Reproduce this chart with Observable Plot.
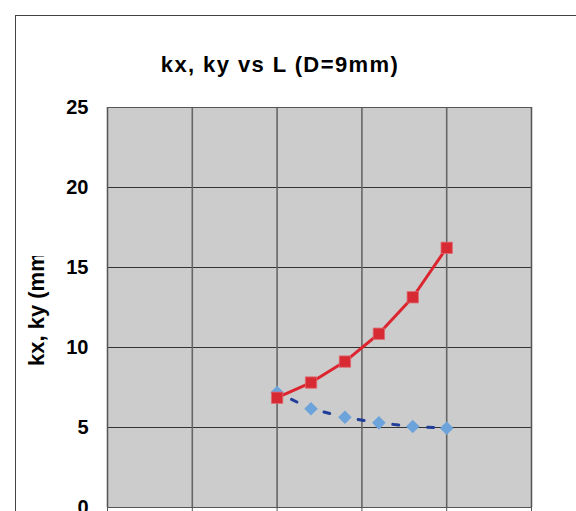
<!DOCTYPE html>
<html>
<head>
<meta charset="utf-8">
<script src="https://cdn.jsdelivr.net/npm/d3@7"></script>
<script src="https://cdn.jsdelivr.net/npm/@observablehq/plot@0.6"></script>
<style>
  html, body { margin: 0; padding: 0; background: #fff; }
  #chart svg { display: block; }
  [aria-label="y-axis tick label"] { font-weight: bold; }
</style>
</head>
<body>
<div id="chart"></div>
<script>
const title = "kx, ky vs L (D=9mm)";
const yLabel = "kx, ky (mm)";
const L = [20, 24, 28, 32, 36, 40];
const kx = [6.86, 7.81, 9.12, 10.86, 13.14, 16.23];
const ky = [7.19, 6.17, 5.64, 5.29, 5.06, 4.96];
const xTicks = [0, 10, 20, 30, 40, 50];
const yTicks = [0, 5, 10, 15, 20, 25];

const red = L.map((l, i) => ({L: l, v: kx[i]}));
const blue = L.map((l, i) => ({L: l, v: ky[i]}));

const font = "'Liberation Sans', Arial, sans-serif";

const plot = Plot.plot({
  width: 576,
  height: 511,
  marginLeft: 107,
  marginRight: 45,
  marginTop: 107,
  marginBottom: 4,
  style: {background: "#fff", fontFamily: font, overflow: "hidden", color: "#000"},
  x: {domain: [0, 50], axis: null},
  y: {domain: [0, 25], axis: null},
  marks: [
    Plot.frame({fill: "#cccccc"}),
    Plot.gridY(yTicks, {stroke: "#333", strokeOpacity: 1, strokeWidth: 1}),
    Plot.gridX(xTicks, {stroke: "#666", strokeOpacity: 1, strokeWidth: 1.6}),
    Plot.frame({stroke: "#555", strokeWidth: 1}),
    Plot.axisX({ticks: xTicks, tickFormat: () => "", tickSize: 6, stroke: "#555", label: null}),
    Plot.axisY({ticks: yTicks, tickSize: 0, tickPadding: 19, fontSize: 20, fontWeight: "bold", label: null, fill: "#000"}),
    Plot.line(blue, {x: "L", y: "v", stroke: "#1f3d99", strokeWidth: 3, strokeDasharray: "6,29", strokeDashoffset: -16}),
    Plot.dot(blue, {x: "L", y: "v", symbol: "diamond2", r: 6.1, fill: "#6ca3db", stroke: "none"}),
    Plot.line(red, {x: "L", y: "v", stroke: "#dd2530", strokeWidth: 3}),
    Plot.dot(red, {x: "L", y: "v", symbol: "square", r: 6.4, fill: "#d82a33", stroke: "#e06a70", strokeWidth: 0.8})
  ]
});

const svg = d3.select(plot);
// outer chart frame (extends beyond the visible area)
svg.insert("rect", ":first-child")
  .attr("x", 15.5).attr("y", 15.5).attr("width", 800).attr("height", 800)
  .attr("fill", "#fff").attr("stroke", "#444").attr("stroke-width", 1);
svg.append("text")
  .attr("x", 280).attr("y", 72)
  .attr("text-anchor", "middle")
  .attr("font-family", font)
  .attr("font-size", 22)
  .attr("font-weight", "bold")
  .attr("letter-spacing", "1.4px")
  .attr("fill", "#000")
  .text(title);
svg.append("defs").append("clipPath").attr("id", "ylclip")
  .append("rect").attr("x", 0).attr("y", 256).attr("width", 100).attr("height", 300);
svg.append("g").attr("clip-path", "url(#ylclip)")
  .append("text")
  .attr("transform", "translate(44,366) rotate(-90)")
  .attr("text-anchor", "start")
  .attr("font-family", font)
  .attr("font-size", 22)
  .attr("font-weight", "bold")
  .attr("fill", "#000")
  .text(yLabel);

document.getElementById("chart").appendChild(plot);
</script>
</body>
</html>
